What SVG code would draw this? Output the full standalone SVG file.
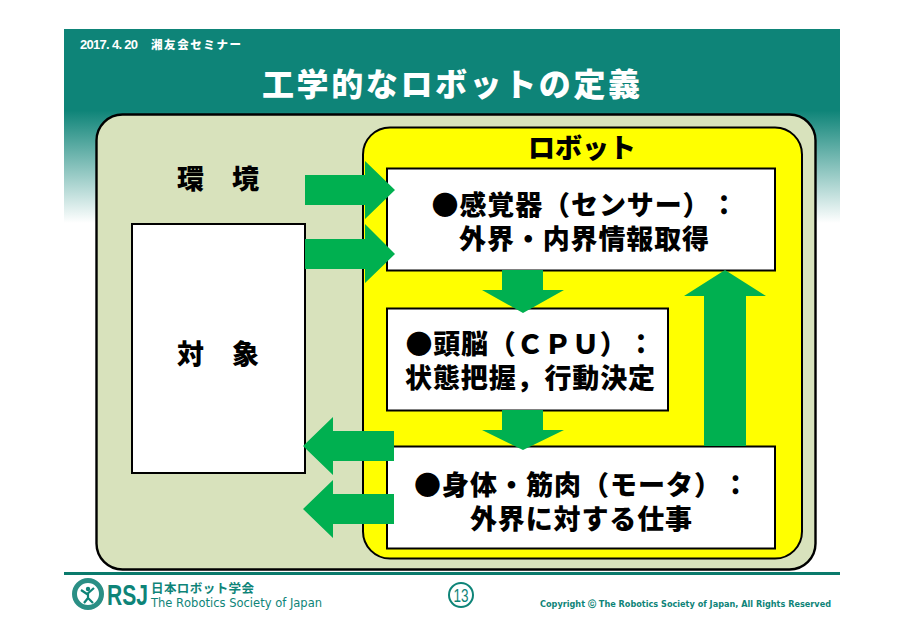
<svg xmlns="http://www.w3.org/2000/svg" width="904" height="640" viewBox="0 0 904 640">
<style>
text{font-family:"Noto Sans CJK JP","Liberation Sans",sans-serif;text-spacing-trim:space-all;font-kerning:none}
.b{font-size:27px;font-weight:900;fill:#000;text-anchor:middle}
.box{fill:#fff;stroke:#000;stroke-width:2}
.ar{fill:#00b050}
.t{fill:#0e8478}
</style>
<defs><linearGradient id="g" x1="0" y1="0" x2="0" y2="1"><stop offset="0" stop-color="#0e8478"/><stop offset="0.42" stop-color="#0e8478"/><stop offset="1" stop-color="#fff"/></linearGradient></defs>
<rect width="904" height="640" fill="#fff"/>
<g id="header">
<rect x="64" y="29" width="776" height="194" fill="url(#g)"/>
<text x="80" y="49" font-size="13" font-weight="700" fill="#fff" style="font-family:'Liberation Sans Narrow','Liberation Sans'" textLength="58">2017. 4. 20</text>
<text x="151" y="49" font-size="11.5" font-weight="900" fill="#fff" textLength="90">湘友会セミナー</text>
<text x="451" y="96" font-size="32" font-weight="900" fill="#fff" text-anchor="middle" textLength="378">工学的なロボットの定義</text>
</g>
<g id="outer"><rect x="96.500" y="114.500" width="719" height="455" rx="26" fill="#d8e2bc" stroke="#000" stroke-width="2.400"/></g>
<g id="robot">
<rect x="363" y="127.500" width="439" height="431" rx="27" fill="#ff0" stroke="#000" stroke-width="2"/>
<text x="582" y="158" class="b" textLength="108">ロボット</text>
</g>
<g id="env"><text x="218" y="189" class="b" textLength="82">環　境</text></g>
<g id="target"><rect x="132" y="224" width="173" height="249" class="box"/><text x="218" y="364" class="b" textLength="82">対　象</text></g>
<g id="sensor"><rect x="387" y="168.500" width="388" height="102" class="box"/>
<text x="584.500" y="215" class="b" textLength="306">●感覚器（センサー）：</text>
<text x="584" y="249" class="b" textLength="250">外界・内界情報取得</text></g>
<g id="brain"><rect x="387" y="308.500" width="281" height="102" class="box"/>
<text x="530" y="354" class="b" textLength="249">●頭脳（ＣＰＵ）：</text>
<text x="530" y="388" class="b" textLength="250">状態把握，行動決定</text></g>
<g id="body"><rect x="387" y="446.500" width="388" height="102" class="box"/>
<text x="581.500" y="495" class="b" textLength="335">●身体・筋肉（モータ）：</text>
<text x="581" y="529" class="b" textLength="222">外界に対する仕事</text></g>
<g id="connectors">
<path class="ar" d="M305 175H365V161L395 190L365 219V205H305Z"/>
<path class="ar" d="M305 239H365V224L395 254L365 283V269H305Z"/>
<path class="ar" d="M502 270H543V290H564L523 313L482 290H502Z"/>
<path class="ar" d="M502 410H543V430H564L523 450L482 430H502Z"/>
<path class="ar" d="M704 446V296H684L725 270L766 296H746V446Z"/>
<path class="ar" d="M394 431H333V417L303 446L333 475V461H394Z"/>
<path class="ar" d="M394 494H333V480L303 509L333 538V524H394Z"/>
</g>
<g id="footer">
<rect x="64" y="572" width="776" height="3" fill="#0a7a6c"/>
<circle cx="88" cy="594" r="13.500" fill="#fff" stroke="#2a8f85" stroke-width="5"/>
<circle cx="88" cy="589" r="2.200" class="t"/>
<path d="M81 590L87 594L94 588M88 593V598L84 603M88 598L93 603" fill="none" stroke="#0e8478" stroke-width="2.200"/>
<text x="107" y="605" font-size="29" font-weight="700" class="t" style="font-family:'Liberation Sans'" textLength="41" lengthAdjust="spacingAndGlyphs">RSJ</text>
<text x="151" y="593" font-size="12.500" font-weight="700" class="t" textLength="103">日本ロボット学会</text>
<text x="151" y="607" font-size="11.500" class="t" style="font-family:'DejaVu Sans'" textLength="171" lengthAdjust="spacingAndGlyphs">The Robotics Society of Japan</text>
<circle cx="461" cy="595" r="12" fill="#fff" stroke="#0e8478" stroke-width="2"/>
<text x="461" y="602" font-size="19" class="t" text-anchor="middle" style="font-family:'Liberation Sans'" textLength="15" lengthAdjust="spacingAndGlyphs">13</text>
<text x="540" y="607" font-size="9" font-weight="700" class="t" style="font-family:'DejaVu Sans'" textLength="291" lengthAdjust="spacingAndGlyphs">Copyright ⓒ The Robotics Society of Japan, All Rights Reserved</text>
</g>
</svg>
